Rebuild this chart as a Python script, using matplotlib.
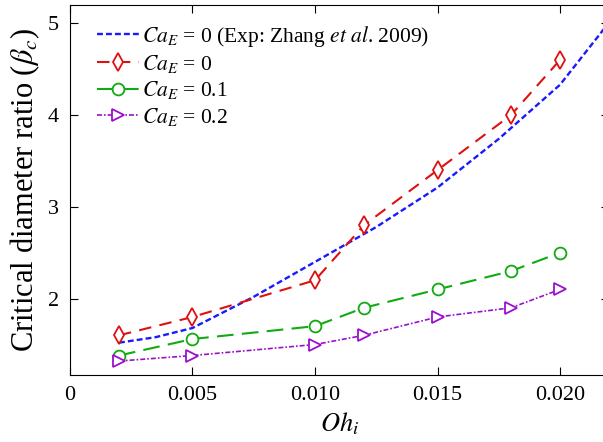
import matplotlib
matplotlib.use('Agg')
import matplotlib.pyplot as plt

plt.rcParams['font.family'] = ['Liberation Serif', 'DejaVu Serif']
plt.rcParams['mathtext.fontset'] = 'stix'

oh = [0.002, 0.005, 0.010, 0.012, 0.015, 0.018, 0.020]
beta_ca0 = [1.6, 1.8, 2.2, 2.8, 3.4, 4.0, 4.6]
beta_ca01 = [1.38, 1.56, 1.7, 1.9, 2.1, 2.3, 2.5]
beta_ca02 = [1.32, 1.38, 1.5, 1.6, 1.8, 1.9, 2.1]

# Zhang et al. 2009 experimental curve
oh_exp = [0.002, 0.0035, 0.005, 0.0075, 0.010, 0.0125, 0.015, 0.0175, 0.020, 0.0218]
beta_exp = [1.52, 1.58, 1.68, 2.02, 2.40, 2.78, 3.21, 3.74, 4.33, 4.94]

fig = plt.figure(figsize=(6.03, 4.42), dpi=100)
ax = fig.add_axes([0.116, 0.152, 0.894, 0.837])

ax.plot(oh_exp, beta_exp, color='#1a1aff', ls=(0, (2.5, 1.3)), lw=1.7,
        label=r'$Ca_E$ = 0 (Exp: Zhang $et\ al$. 2009)')
ax.plot(oh, beta_ca0, color='#dd1111', ls=(0, (6, 4)), lw=1.5, marker='d',
        ms=9, mfc='white', mec='#dd1111', mew=1.3, label=r'$Ca_E$ = 0')
ax.plot(oh, beta_ca01, color='#11aa11', ls=(0, (8, 4)), lw=1.5, marker='o',
        ms=8.5, mfc='white', mec='#11aa11', mew=1.3, label=r'$Ca_E$ = 0.1')
ax.plot(oh, beta_ca02, color='#9911cc', ls=(0, (3, 1.2, 1, 1.2)), lw=1.2, marker='>',
        ms=8.5, mfc='white', mec='#9911cc', mew=1.3, label=r'$Ca_E$ = 0.2')

ax.set_xlim(0, 0.022)
ax.set_ylim(1.17, 5.2)
ax.set_xticks([0, 0.005, 0.010, 0.015, 0.020])
ax.set_xticklabels(['0', '0.005', '0.010', '0.015', '0.020'])
ax.set_yticks([2, 3, 4, 5])
ax.tick_params(direction='in', top=True, right=True, labelsize=16, length=6, pad=8)
ax.set_xlabel(r'$Oh_i$', fontsize=19)
ax.set_ylabel(r'Critical diameter ratio ($\beta_c$)', fontsize=22)

ax.legend(loc='upper left', frameon=False, fontsize=15.5, handlelength=1.95,
          handletextpad=0.15, labelspacing=0.2, borderaxespad=0.3,
          bbox_to_anchor=(0.022, 0.99))

fig.savefig('out.png', dpi=100)
